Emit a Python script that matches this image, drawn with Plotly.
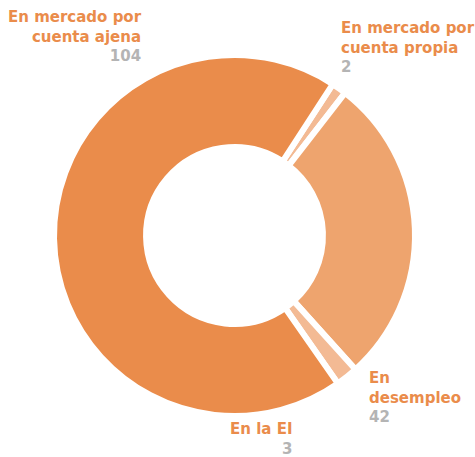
import plotly.graph_objects as go

# Slice data, listed clockwise from the top-right
labels = ["En mercado por<br>cuenta propia", "En<br>desempleo", "En la EI", "En mercado por<br>cuenta ajena"]
values = [2, 42, 3, 104]
colors = ["#F3BA94", "#EEA46E", "#F3BA94", "#EA8C4B"]

TEXT_ORANGE = "#EA8C4B"
TEXT_GREY = "#B4B4B4"
FONT = "DejaVu Sans"
FONT_SIZE = 15

W, H = 475, 457
ML, MR, MT, MB = 54, 60, 55, 41
PW, PH = W - ML - MR, H - MT - MB

# Label blocks: anchor x (px), block centre y (px), alignment
label_x = [340, 368, 293, 143]
label_cy = [47, 397, 439, 36]
label_align = ["left", "left", "right", "right"]


def to_paper(px, py):
    return (px - ML) / PW, 1 - (py - MT) / PH


fig = go.Figure(
    go.Pie(
        labels=labels,
        values=values,
        sort=False,
        direction="clockwise",
        rotation=33,
        hole=0.49,
        marker=dict(colors=colors, line=dict(color="white", width=6)),
        textinfo="none",
        hoverinfo="label+value",
        showlegend=False,
    )
)

annotations = []
for lab, val, x, cy, al in zip(labels, values, label_x, label_cy, label_align):
    px, py = to_paper(x, cy)
    annotations.append(
        dict(
            x=px, y=py, xref="paper", yref="paper",
            xanchor=al, yanchor="middle", align=al,
            showarrow=False, borderpad=0,
            text=f"<span style='color:{TEXT_ORANGE}'>{lab}</span><br>"
                 f"<span style='color:{TEXT_GREY}'>{val}</span>",
            font=dict(family=FONT, size=FONT_SIZE, weight="bold"),
        )
    )

fig.update_layout(
    width=W, height=H,
    margin=dict(l=ML, r=MR, t=MT, b=MB),
    paper_bgcolor="white",
    plot_bgcolor="white",
    annotations=annotations,
)

fig.write_html("out.html")
